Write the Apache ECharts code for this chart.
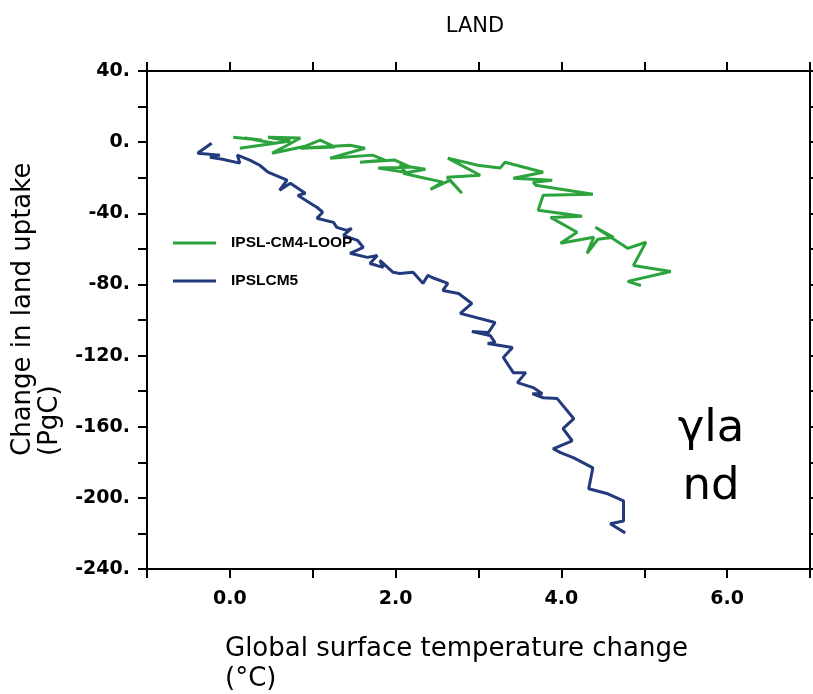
<!DOCTYPE html>
<html>
<head>
<meta charset="utf-8">
<script src="https://cdn.jsdelivr.net/npm/echarts@6/dist/echarts.min.js"></script>
<style>
  html, body { margin: 0; padding: 0; background: #fff; }
  #container { width: 813px; height: 694px; }
</style>
</head>
<body>
<div id="container"></div>
<script>
(function() {
    // IPSL-CM4-LOOP : temperature change (°C) vs change in land uptake (PgC)
    var cm4Temp = [0.04, 0.39, 0.18, 0.54, 0.12, 0.73, 0.46, 0.85, 0.67, 0.51, 0.91, 1.09, 1.27, 0.85, 1.45,
        1.63, 1.21, 1.72, 1.87, 1.57, 1.99, 2.18, 1.79, 2.12, 2.05, 2.36, 2.09, 2.30, 2.57, 2.42, 2.66, 2.80,
        2.62, 3.02, 2.63, 2.99, 3.26, 3.32, 3.78, 3.42, 3.89, 3.66, 3.69, 4.38, 3.78, 3.72, 4.25, 3.87, 4.19,
        3.99, 4.39, 4.31, 4.44, 4.63, 4.41, 4.80, 5.02, 4.87, 5.32, 4.80, 4.96];
    var cm4Land = [2.8, 1.1, 2.3, -0.6, -3.4, 0.6, 2.8, 2.3, -2.3, -6.2, -2.3, 1.1, -2.8, -3.4, -1.7,
        -3.4, -9.0, -7.3, -10.1, -11.3, -10.1, -14.1, -14.6, -16.9, -13.0, -15.2, -17.5, -19.7, -22.5, -26.5, -21.4, -28.7,
        -19.7, -18.6, -9.0, -13.0, -14.6, -11.3, -16.9, -20.3, -21.4, -22.5, -24.2, -29.3, -29.9, -38.3, -41.7, -42.3, -50.7,
        -56.9, -53.5, -62.5, -54.6, -53.5, -47.9, -59.7, -56.3, -69.3, -72.7, -78.3, -80.6];

    // IPSLCM5
    var cm5Temp = [-0.22, -0.39, -0.12, -0.24, -0.09, 0.12, 0.09, 0.24, 0.36, 0.46, 0.69, 0.60, 0.73, 0.91,
        0.82, 0.97, 1.05, 1.12, 1.05, 1.25, 1.29, 1.41, 1.47, 1.37, 1.54, 1.61, 1.45, 1.66, 1.78, 1.69, 1.85,
        1.81, 1.97, 2.05, 2.21, 2.33, 2.39, 2.44, 2.63, 2.57, 2.76, 2.92, 2.78, 3.20, 3.12, 2.92, 3.14, 3.20,
        3.11, 3.41, 3.30, 3.42, 3.57, 3.47, 3.66, 3.77, 3.65, 3.78, 3.95, 4.15, 4.02, 4.13, 3.90, 3.99, 4.15,
        4.38, 4.33, 4.56, 4.75, 4.75, 4.59, 4.77];
    var cm5Land = [-0.6, -6.2, -7.3, -8.5, -9.6, -11.8, -7.3, -10.1, -13.0, -16.9, -21.4, -27.0, -23.1, -28.7,
        -29.9, -34.4, -36.6, -39.4, -42.8, -45.1, -47.9, -49.6, -48.5, -52.4, -55.2, -59.2, -62.5, -64.8, -63.7, -68.2, -70.4,
        -66.5, -73.2, -73.8, -73.2, -79.4, -74.9, -76.1, -79.4, -83.4, -85.1, -90.7, -96.3, -101.4, -107.0, -106.5, -108.7, -112.7,
        -113.2, -115.5, -121.1, -129.6, -129.6, -135.2, -138.0, -141.4, -141.4, -143.7, -144.2, -155.5, -161.1, -167.9, -172.4, -174.6, -177.5,
        -183.1, -194.9, -197.7, -201.7, -213.0, -214.6, -219.7];

    var xMin = -1, xMax = 7, xStep = 1;
    var yMin = -240, yMax = 40, yStep = 20;

    function pairs(xs, ys) {
        return xs.map(function(x, i) { return [x, ys[i]]; });
    }

    var dom = document.getElementById("container");
    var myChart = echarts.init(dom);

    var axisLine = { show: true, onZero: false, lineStyle: { color: '#000', width: 2 } };
    var axisTick = { show: true, inside: false, length: 9, lineStyle: { color: '#000', width: 2 } };
    var labelFont = { color: '#000', fontFamily: 'DejaVu Sans', fontWeight: 'bold', fontSize: 19 };

    var option = {
        animation: false,
        backgroundColor: '#fff',
        title: {
            text: 'LAND',
            left: 470,
            textAlign: 'center',
            top: 11,
            textStyle: { color: '#000', fontFamily: 'DejaVu Sans', fontWeight: 'normal', fontSize: 21 }
        },
        grid: { left: 147, right: 3, top: 71, bottom: 125 },
        legend: {
            orient: 'vertical',
            left: 173,
            top: 235,
            padding: 0,
            icon: 'rect',
            itemWidth: 43,
            itemHeight: 3,
            itemGap: 22,
            textStyle: { color: '#000', fontFamily: 'Liberation Sans', fontWeight: 'bold', fontSize: 15.5, padding: [0, 0, 0, 10] },
            data: ['IPSL-CM4-LOOP', 'IPSLCM5']
        },
        xAxis: [{
            type: 'value', position: 'bottom', min: xMin, max: xMax, interval: xStep,
            axisLine: axisLine, axisTick: axisTick, splitLine: { show: false },
            axisLabel: Object.assign({
                margin: 21,
                formatter: function(v) { return v >= 0 && v % 2 === 0 ? v.toFixed(1) : ''; }
            }, labelFont)
        }, {
            type: 'value', position: 'top', min: xMin, max: xMax, interval: xStep,
            axisLine: axisLine, axisTick: axisTick, splitLine: { show: false },
            axisLabel: { show: false }
        }],
        yAxis: [{
            type: 'value', position: 'left', min: yMin, max: yMax, interval: yStep,
            axisLine: axisLine, axisTick: axisTick, splitLine: { show: false },
            axisLabel: Object.assign({
                margin: 17,
                formatter: function(v) { return v % 40 === 0 ? v + '.' : ''; }
            }, labelFont)
        }, {
            type: 'value', position: 'right', min: yMin, max: yMax, interval: yStep,
            axisLine: axisLine, axisTick: axisTick, splitLine: { show: false },
            axisLabel: { show: false }
        }],
        series: [{
            name: 'IPSL-CM4-LOOP',
            type: 'line',
            data: pairs(cm4Temp, cm4Land),
            symbol: 'none',
            lineStyle: { color: '#2ca33c', width: 3 },
            itemStyle: { color: '#2ca33c' }
        }, {
            name: 'IPSLCM5',
            type: 'line',
            data: pairs(cm5Temp, cm5Land),
            symbol: 'none',
            lineStyle: { color: '#233a7c', width: 3 },
            itemStyle: { color: '#233a7c' }
        }],
        graphic: [{
            type: 'text',
            x: 225, y: 634,
            style: {
                text: 'Global surface temperature change\n(°C)',
                fill: '#000', font: '26px "DejaVu Sans"', lineHeight: 30,
                textAlign: 'left', textVerticalAlign: 'top'
            }
        }, {
            type: 'text',
            x: 10, y: 456,
            rotation: Math.PI / 2,
            style: {
                text: 'Change in land uptake\n(PgC)',
                fill: '#000', font: '26px "DejaVu Sans"', lineHeight: 27,
                textAlign: 'left', textVerticalAlign: 'top'
            }
        }, {
            type: 'text',
            x: 711, y: 400,
            style: {
                text: 'γla\nnd',
                fill: '#000', font: '45px "DejaVu Sans"', lineHeight: 58,
                textAlign: 'center', textVerticalAlign: 'top'
            }
        }]
    };
    myChart.setOption(option);
}).call(this);
</script>
</body>
</html>
